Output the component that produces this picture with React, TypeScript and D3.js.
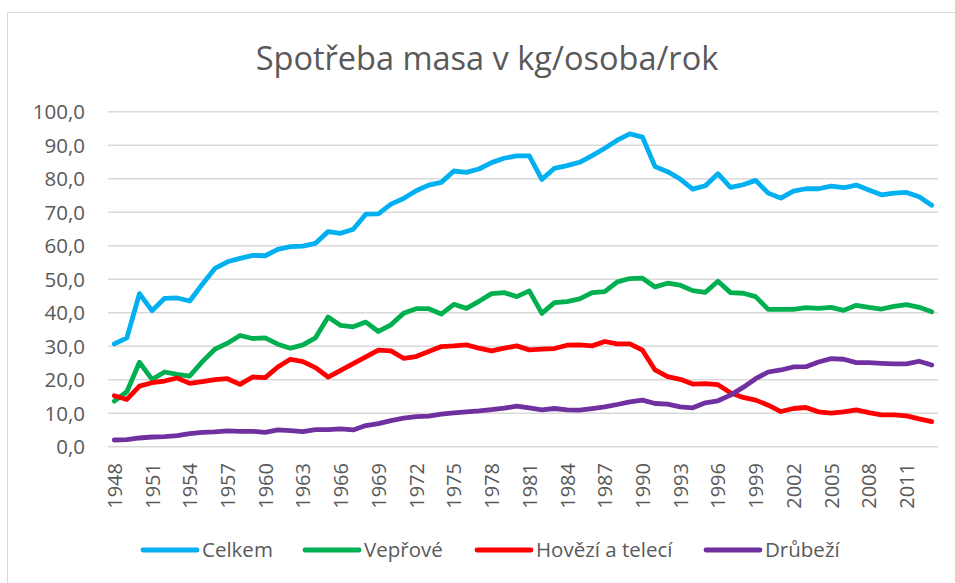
import * as d3 from 'd3';

const years = d3.range(1948, 2014).map(String);

const celkem = [30.7, 32.5, 45.7, 40.6, 44.3, 44.4, 43.5, 48.5, 53.2, 55.2, 56.2, 57.1, 57.0, 58.9, 59.7, 59.9, 60.7, 64.2, 63.7, 64.9, 69.4, 69.5,
  72.4, 74.1, 76.4, 78.1, 78.9, 82.3, 81.9, 82.9, 84.8, 86.1, 86.8, 86.8, 79.8, 83.1, 83.9, 84.9, 86.9, 89.1, 91.5, 93.4, 92.4, 83.6, 82.1, 79.9,
  76.9, 77.9, 81.5, 77.4, 78.2, 79.5, 75.7, 74.2, 76.3, 77.0, 77.0, 77.8, 77.3, 78.1, 76.6, 75.2, 75.7, 75.9, 74.6, 72.1];
const veprove = [13.6, 16.4, 25.2, 20.1, 22.3, 21.6, 21.1, 25.4, 29.1, 30.9, 33.2, 32.3, 32.5, 30.6, 29.4, 30.4, 32.5, 38.7, 36.2, 35.8, 37.2, 34.4,
  36.4, 39.8, 41.2, 41.2, 39.6, 42.5, 41.3, 43.4, 45.7, 46.0, 44.8, 46.5, 39.8, 43.0, 43.3, 44.1, 46.0, 46.3, 49.2, 50.2, 50.3, 47.7, 48.8, 48.2,
  46.6, 46.1, 49.4, 46.0, 45.8, 44.8, 41.0, 41.0, 41.0, 41.5, 41.3, 41.6, 40.7, 42.2, 41.6, 41.1, 41.9, 42.4, 41.6, 40.3];
const hovezi = [15.2, 14.1, 18.1, 19.1, 19.6, 20.5, 18.9, 19.4, 20.0, 20.3, 18.6, 20.8, 20.6, 23.8, 26.1, 25.4, 23.6, 20.8, 22.8, 24.8, 26.8, 28.8,
  28.6, 26.4, 26.9, 28.4, 29.9, 30.1, 30.4, 29.4, 28.6, 29.4, 30.1, 28.9, 29.1, 29.3, 30.3, 30.4, 30.1, 31.4, 30.7, 30.7, 28.8, 22.9, 20.9, 20.1,
  18.7, 18.8, 18.5, 16.1, 14.7, 13.9, 12.4, 10.5, 11.4, 11.7, 10.4, 10.0, 10.4, 11.0, 10.2, 9.5, 9.5, 9.2, 8.3, 7.5];
const drubezi = [2.0, 2.1, 2.6, 2.9, 3.0, 3.3, 3.9, 4.3, 4.4, 4.7, 4.6, 4.6, 4.3, 5.0, 4.8, 4.5, 5.1, 5.1, 5.3, 5.0, 6.3, 6.9,
  7.8, 8.5, 9.0, 9.1, 9.7, 10.1, 10.4, 10.7, 11.1, 11.5, 12.1, 11.6, 11.0, 11.4, 11.0, 10.9, 11.4, 11.9, 12.6, 13.4, 13.9, 12.9, 12.7, 11.9,
  11.6, 13.1, 13.7, 15.4, 17.7, 20.3, 22.3, 22.9, 23.8, 23.9, 25.3, 26.3, 26.1, 25.1, 25.1, 24.9, 24.7, 24.7, 25.5, 24.4];

const seriesNames = ['Celkem', 'Vepřové', 'Hovězí a telecí', 'Drůbeží'];
const seriesColors = ['#00B0F0', '#00B050', '#FF0000', '#7030A0'];
const seriesValues = [celkem, veprove, hovezi, drubezi];
const yTicks = d3.range(0, 101, 10);

const W = 955;
const H = 583;
const font = '"Open Sans", "Noto Sans", sans-serif';
const textColor = '#595959';

export default function App() {
  const x = d3.scaleBand<string>().domain(years).range([108, 938]);
  const y = d3.scaleLinear().domain([0, 100]).range([446.7, 111.7]);
  const cx = (yr: string) => (x(yr) ?? 0) + x.bandwidth() / 2;

  const line = d3.line<number>()
    .x((_, i) => cx(years[i]))
    .y(d => y(d))
    .curve(d3.curveLinear);

  const legendX = [143, 305, 477, 706];

  return (
    <svg width={W} height={H} style={{ position: 'absolute', left: 0, top: 0, fontFamily: font }}>
      <rect x={0} y={0} width={W} height={H} fill="#fff" />
      <rect x={7.5} y={12.5} width={W + 10} height={H + 10} fill="none" stroke="#d9d9d9" strokeWidth={1} />

      <text x={487} y={70} textAnchor="middle" fontSize={32.5} fill={textColor}>
        Spotřeba masa v kg/osoba/rok
      </text>

      {yTicks.map(t => (
        <g key={t}>
          <line x1={108} x2={938} y1={y(t)} y2={y(t)} stroke="#d9d9d9" strokeWidth={1.5} />
          <text x={85} y={y(t)} dy="0.36em" textAnchor="end" fontSize={20.5} fill={textColor}>
            {d3.format('.1f')(t).replace('.', ',')}
          </text>
        </g>
      ))}

      {years.filter((_, i) => i % 3 === 0).map(yr => (
        <text
          key={yr}
          transform={`translate(${cx(yr) + 7.5},${463}) rotate(-90)`}
          textAnchor="end"
          fontSize={20}
          fill={textColor}
        >
          {yr}
        </text>
      ))}

      {seriesValues.map((vals, i) => (
        <path
          key={seriesNames[i]}
          d={line(vals) ?? ''}
          fill="none"
          stroke={seriesColors[i]}
          strokeWidth={4.8}
          strokeLinejoin="round"
          strokeLinecap="round"
        />
      ))}

      {seriesNames.map((name, i) => (
        <g key={name}>
          <line x1={legendX[i]} x2={legendX[i] + 54} y1={550} y2={550} stroke={seriesColors[i]} strokeWidth={4.8} strokeLinecap="round" />
          <text x={legendX[i] + 59} y={550} dy="0.36em" fontSize={20.5} fill={textColor}>{name}</text>
        </g>
      ))}
    </svg>
  );
}
